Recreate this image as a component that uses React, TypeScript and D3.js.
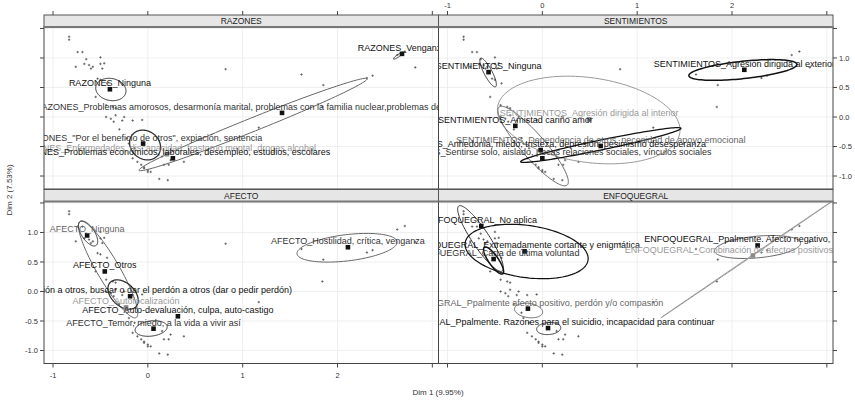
import * as d3 from 'd3';

const W = 855;
const H = 401;
const PW = 394.5;
const PH = 162;
const STRIP = 12;
const colX = [44, 438.5];
const rowY = [27, 201.5];

const xDomain = [-1.095, 3.065];
const yDomain = [-1.22, 1.525];
const xTicks = [-1, 0, 1, 2, 3];
const xTickLabels = ['-1', '0', '1', '2', ''];
const yTicks = [-1, -0.5, 0, 0.5, 1, 1.5];
const yTickLabels = ['-1.0', '-0.5', '0.0', '0.5', '1.0', ''];

const panelNames = ['RAZONES', 'SENTIMIENTOS', 'AFECTO', 'ENFOQUEGRAL'];
const panelCol = [0, 1, 0, 1];
const panelRow = [0, 0, 1, 1];

const shades: Record<string, string> = { k: '#111', d: '#333', m: '#666', l: '#999' };

// individuals (same in every panel)
const individuals: [number, number][] = [
  [-0.83, 1.36], [-0.83, 1.31], [-0.74, 1.1], [-0.69, 1.1], [-0.65, 0.98], [-0.67, 0.9],
  [-0.62, 0.88], [-0.58, 0.85], [-0.5, 0.9], [-0.46, 0.91], [-0.48, 0.82], [-0.76, 0.85],
  [-0.6, 0.82], [-0.5, 1.01], [-0.55, 0.34], [-0.53, 0.65], [-0.5, 0.63], [-0.43, 0.57],
  [-0.44, 0.2], [-0.37, 0.17], [-0.34, 0.15], [-0.44, 0.0], [-0.39, -0.03], [-0.34, 0.03],
  [-0.27, -0.06], [-0.16, -0.06], [-0.3, -0.21], [-0.36, -0.08], [-0.25, 0.0], [-0.06, -0.05],
  [-0.22, -0.36], [-0.2, -0.45], [-0.14, -0.53], [-0.16, -0.7], [-0.11, -0.76], [-0.07, -0.81],
  [-0.04, -0.87], [0.0, -0.93], [0.03, -0.93], [0.12, -1.05], [0.21, -1.07], [0.22, -0.81],
  [0.24, -0.73], [0.38, -0.76], [0.15, -0.67], [0.17, -0.81], [-0.04, -0.85], [0.0, -0.9],
  [0.82, 0.81], [1.17, -0.18], [1.62, 0.72], [1.85, 0.54], [1.84, 0.17], [2.31, 0.66],
  [2.37, 0.7], [2.63, 1.05], [2.71, 1.11], [2.82, 0.84],
];

// categories: label, dim1, dim2, shade
type Cat = [string, number, number, string];
const razonesCats: Cat[] = [
  ['RAZONES_Ninguna', -0.4, 0.47, 'k'],
  ['RAZONES_Venganza', 2.68, 1.07, 'k'],
  ['RAZONES_Problemas amorosos, desarmonía marital, problemas con la familia nuclear,problemas de relación con la pareja', 1.415, 0.07, 'd'],
  ['RAZONES_"Por el beneficio de otros", expiación, sentencia', -0.05, -0.45, 'd'],
  ['RAZONES_Enfermedades, discapacidad, trastorno mental, drogas alcohol', 0.2, -0.63, 'l'],
  ['RAZONES_Problemas económicos, laborales, desempleo, estudios, escolares', 0.264, -0.7, 'k'],
];
const sentimientosCats: Cat[] = [
  ['SENTIMIENTOS_Ninguna', -0.567, 0.76, 'k'],
  ['SENTIMIENTOS_Agresión dirigida al exterior', 2.13, 0.8, 'k'],
  ['SENTIMIENTOS_Agresión dirigida al interior', 0.493, -0.04, 'l'],
  ['SENTIMIENTOS_Amistad cariño amor', -0.285, -0.15, 'k'],
  ['SENTIMIENTOS_Dependencia de otros, necesidad de apoyo emocional', 0.615, -0.49, 'm'],
  ['SENTIMIENTOS_Anhedonia, miedo, tristeza, depresión, pesimismo desesperanza', -0.018, -0.56, 'k'],
  ['SENTIMIENTOS_Sentirse solo, aislado, pocas relaciones sociales, vínculos sociales', 0.0, -0.7, 'd'],
];
const afectoCats: Cat[] = [
  ['AFECTO_Ninguna', -0.64, 0.95, 'm'],
  ['AFECTO_Otros', -0.454, 0.34, 'k'],
  ['AFECTO_Compasión a otros, buscar o dar el perdón a otros (dar o pedir perdón)', -0.187, -0.08, 'k'],
  ['AFECTO_Autofocalización', -0.23, -0.27, 'l'],
  ['AFECTO_Auto-devaluación, culpa, auto-castigo', 0.317, -0.42, 'k'],
  ['AFECTO_Temor, miedo, a la vida a vivir así', 0.06, -0.63, 'd'],
  ['AFECTO_Hostilidad, crítica, venganza', 2.11, 0.75, 'd'],
];
const enfoqueCats: Cat[] = [
  ['ENFOQUEGRAL_No aplica', -0.644, 1.11, 'k'],
  ['ENFOQUEGRAL_Extremadamente cortante y enigmática', -0.187, 0.68, 'k'],
  ['ENFOQUEGRAL_Carta de última voluntad', -0.514, 0.55, 'd'],
  ['ENFOQUEGRAL_Ppalmente afecto positivo, perdón y/o compasión', -0.152, -0.29, 'm'],
  ['ENFOQUEGRAL_Ppalmente. Razones para el suicidio, incapacidad para continuar', 0.06, -0.62, 'k'],
  ['ENFOQUEGRAL_Ppalmente. Afecto negativo, hostilidad', 2.27, 0.78, 'k'],
  ['ENFOQUEGRAL_Combinación de afectos positivos y negativos', 2.22, 0.61, 'l'],
];

// confidence ellipses: center x, center y, half major axis (dx, dy), minor/major ratio, shade, stroke width
type Ell = [number, number, number, number, number, string, number];
const razonesEll: Ell[] = [
  [-0.39, 0.466, 0.158, -0.051, 0.72, 'd', 1],
  [2.643, 1.04, 0.053, 0.058, 0.2, 'd', 1],
  [1.11, -0.127, 1.203, 0.776, 0.055, 'm', 1],
  [-0.029, -0.475, 0.137, -0.169, 0.85, 'd', 1.3],
];
const sentimientosEll: Ell[] = [
  [-0.572, 0.754, 0.079, -0.241, 0.25, 'd', 1],
  [2.115, 0.797, 0.57, 0.097, 0.16, 'k', 1.5],
  [0.489, -0.051, 0.961, -0.217, 0.46, 'l', 1],
  [-0.097, -0.492, 0.359, -0.661, 0.23, 'm', 1],
  [0.616, -0.475, 0.845, 0.283, 0.06, 'k', 1.3],
];
const afectoEll: Ell[] = [
  [-0.419, 0.373, 0.296, -0.814, 0.2, 'm', 1],
  [-0.63, 0.983, 0.084, -0.203, 0.45, 'd', 1],
  [-0.261, -0.051, 0.137, -0.203, 0.65, 'd', 1.3],
  [0.035, -0.627, 0.169, 0.034, 0.47, 'd', 1],
  [2.101, 0.741, 0.528, 0.102, 0.26, 'm', 1],
];
const enfoqueEll: Ell[] = [
  [-0.652, 0.898, 0.229, -0.551, 0.22, 'd', 1],
  [-0.166, 0.678, 0.648, -0.146, 0.42, 'k', 1.2],
  [-0.514, 0.525, 0.097, -0.225, 0.3, 'k', 1.5],
  [-0.145, -0.322, 0.148, -0.034, 0.5, 'm', 1],
  [0.067, -0.627, 0.127, 0.017, 0.5, 'd', 1],
  [2.27, 0.754, 0.454, 0.068, 0.25, 'm', 1],
  [2.2, 0.593, 0.95, 1.039, 0.003, 'l', 1],
];

const panelCats = [razonesCats, sentimientosCats, afectoCats, enfoqueCats];
const panelEll = [razonesEll, sentimientosEll, afectoEll, enfoqueEll];

const FONT = '"Liberation Sans", Arial, sans-serif';

const x = d3.scaleLinear().domain(xDomain).range([0, PW]);
const y = d3.scaleLinear().domain(yDomain).range([PH, 0]);

function ellipsePath(e: Ell) {
  const [cx, cy, ax, ay, ratio] = e;
  const c = [x(cx), y(cy)];
  const mx = x(cx + ax) - c[0];
  const my = y(cy + ay) - c[1];
  const nx = -my * ratio;
  const ny = mx * ratio;
  const pts: [number, number][] = d3.range(0, 120).map((i) => {
    const t = (i / 120) * Math.PI * 2;
    return [c[0] + mx * Math.cos(t) + nx * Math.sin(t), c[1] + my * Math.cos(t) + ny * Math.sin(t)];
  });
  return d3.line().curve(d3.curveLinearClosed)(pts) ?? '';
}

function Panel({ i }: { i: number }) {
  const col = panelCol[i];
  const row = panelRow[i];
  const left = colX[col];
  const top = rowY[row];
  const cats = panelCats[i];
  const ells = panelEll[i];
  const clipId = `clip-${i}`;
  return (
    <g transform={`translate(${left},${top})`}>
      <defs>
        <clipPath id={clipId}>
          <rect x={0} y={0} width={PW} height={PH} />
        </clipPath>
      </defs>
      <rect x={0} y={0} width={PW} height={PH} fill="#fff" />
      {xTicks.map((t) => (
        <line key={`gx${t}`} x1={x(t)} x2={x(t)} y1={0} y2={PH} stroke="#ebebeb" strokeWidth={0.8} />
      ))}
      {yTicks.map((t) => (
        <line key={`gy${t}`} x1={0} x2={PW} y1={y(t)} y2={y(t)} stroke="#ebebeb" strokeWidth={0.8} />
      ))}
      <g clipPath={`url(#${clipId})`}>
        {individuals.map(([a, b], k) => (
          <path
            key={`p${k}`}
            d={`M${x(a) - 1.2},${y(b)}h2.4M${x(a)},${y(b) - 1.2}v2.4`}
            stroke="#555"
            strokeWidth={0.8}
          />
        ))}
        {ells.map((e, k) => (
          <path key={`e${k}`} d={ellipsePath(e)} fill="none" stroke={shades[e[5]]} strokeWidth={e[6]} />
        ))}
        {cats.map(([, a, b, s], k) => (
          <rect
            key={`s${k}`}
            x={x(a) - 2.3}
            y={y(b) - 2.3}
            width={4.6}
            height={4.6}
            fill={s === 'l' ? '#8a8a8a' : '#111'}
          />
        ))}
        {cats.map(([label, a, b, s], k) => (
          <text
            key={`t${k}`}
            x={x(a)}
            y={y(b) - 3}
            textAnchor="middle"
            fontFamily={FONT}
            fontSize={9}
            fill={shades[s]}
          >
            {label}
          </text>
        ))}
      </g>
      <rect x={0} y={0} width={PW} height={PH} fill="none" stroke="#444" strokeWidth={1} />
      <rect x={0} y={-STRIP} width={PW} height={STRIP} fill="#e6e6e6" stroke="#555" strokeWidth={1} />
      <line x1={0} x2={PW} y1={0} y2={0} stroke="#777" strokeWidth={2} />
      <text x={PW / 2} y={-3} textAnchor="middle" fontFamily={FONT} fontSize={8.5} fill="#222">
        {panelNames[i]}
      </text>
    </g>
  );
}

function Axes() {
  const out: JSX.Element[] = [];
  const tick = 4;
  colX.forEach((left, c) => {
    xTicks.forEach((t, k) => {
      const px = left + x(t);
      const topEdge = rowY[0] - STRIP;
      out.push(<line key={`tt${c}${k}`} x1={px} x2={px} y1={topEdge} y2={topEdge - tick} stroke="#444" />);
      const bot = rowY[1] + PH;
      out.push(<line key={`bt${c}${k}`} x1={px} x2={px} y1={bot} y2={bot + tick} stroke="#444" />);
      if (c === 1 && xTickLabels[k]) {
        out.push(
          <text key={`tl${k}`} x={px} y={8} textAnchor="middle" fontFamily={FONT} fontSize={7.5} fill="#333">
            {xTickLabels[k]}
          </text>
        );
      }
      if (c === 0 && xTickLabels[k]) {
        out.push(
          <text key={`bl${k}`} x={px} y={378} textAnchor="middle" fontFamily={FONT} fontSize={7.5} fill="#333">
            {xTickLabels[k]}
          </text>
        );
      }
    });
  });
  rowY.forEach((top, r) => {
    yTicks.forEach((t, k) => {
      const py = top + y(t);
      const l = colX[0];
      const rgt = colX[1] + PW;
      out.push(<line key={`lt${r}${k}`} x1={l} x2={l - tick} y1={py} y2={py} stroke="#444" />);
      out.push(<line key={`rt${r}${k}`} x1={rgt} x2={rgt + tick} y1={py} y2={py} stroke="#444" />);
      if (r === 1 && yTickLabels[k]) {
        out.push(
          <text key={`ll${k}`} x={l - 6} y={py + 2.7} textAnchor="end" fontFamily={FONT} fontSize={7.5} fill="#333">
            {yTickLabels[k]}
          </text>
        );
      }
      if (r === 0 && yTickLabels[k]) {
        out.push(
          <text key={`rl${k}`} x={rgt + 6} y={py + 2.7} textAnchor="start" fontFamily={FONT} fontSize={7.5} fill="#333">
            {yTickLabels[k]}
          </text>
        );
      }
    });
  });
  return <g>{out}</g>;
}

export default function App() {
  return (
    <svg
      width={W}
      height={H}
      style={{ position: 'absolute', left: 0, top: 0, background: '#fff' }}
    >
      <rect width={W} height={H} fill="#fff" />
      {panelNames.map((_, i) => (
        <Panel key={i} i={i} />
      ))}
      <Axes />
      <text x={438} y={395} textAnchor="middle" fontFamily={FONT} fontSize={8} fill="#333">
        Dim 1 (9.95%)
      </text>
      <text
        transform="translate(12,190) rotate(-90)"
        textAnchor="middle"
        fontFamily={FONT}
        fontSize={8}
        fill="#333"
      >
        Dim 2 (7.53%)
      </text>
    </svg>
  );
}
